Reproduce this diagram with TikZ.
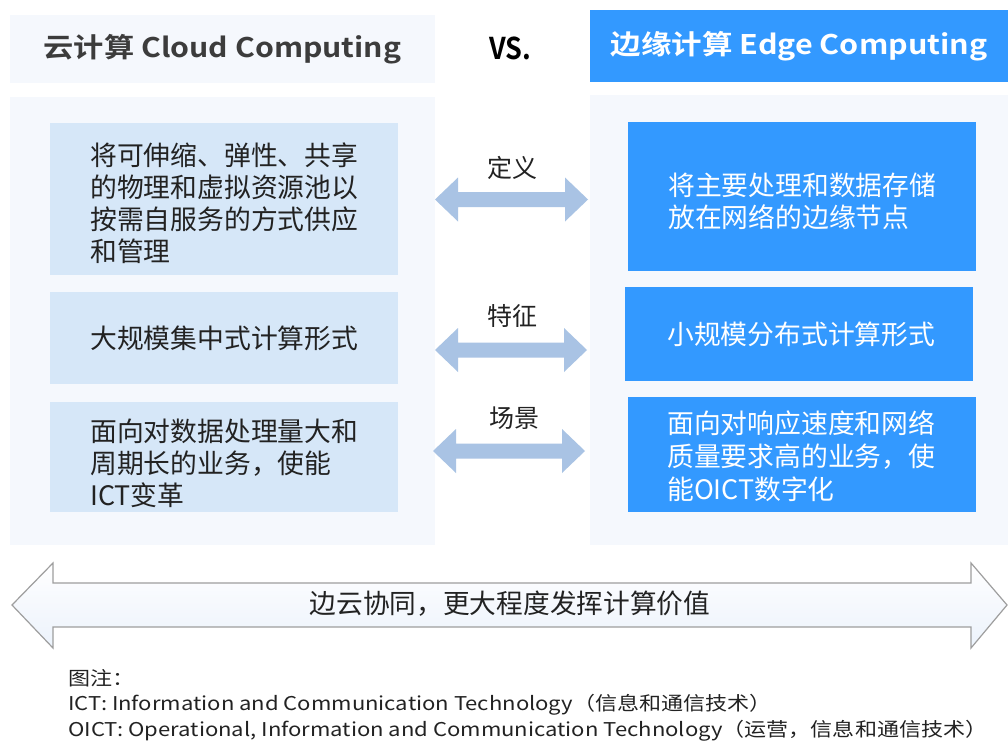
\documentclass[tikz,border=0pt]{standalone}
\usepackage{graphicx}
\usepackage{fontspec}
\setmainfont{Noto Sans CJK SC}[BoldFont={* Bold}]
\definecolor{blueR}{HTML}{3399FF}
\definecolor{lightbox}{HTML}{D6E7F8}
\definecolor{panelbg}{HTML}{F5F8FD}
\definecolor{arrowc}{HTML}{A9C3E4}
\definecolor{txt}{HTML}{222222}
\definecolor{htxt}{HTML}{3C3C3C}
\definecolor{edgegray}{HTML}{9E9E9E}
\newcommand{\sx}[2]{\scalebox{#1}[1]{#2}}
\tikzset{
  panel/.style={fill=panelbg, draw=none},
  hdr/.style={rectangle, inner sep=0pt, font=\fontsize{27}{30}\selectfont\bfseries},
  cbox/.style={rectangle, inner sep=0pt, minimum width=348pt, draw=none},
  lbox/.style={cbox, fill=lightbox},
  rbox/.style={cbox, fill=blueR},
  ctext/.style={anchor=west, inner sep=0pt, align=left, font=\fontsize{26.8}{32}\selectfont},
  ltext/.style={ctext, text=txt},
  rtext/.style={ctext, text=white},
  midlbl/.style={font=\fontsize{25}{28}\selectfont, text=txt, inner sep=0pt},
  fatarrow/.style={fill=arrowc, draw=none},
  note/.style={anchor=west, inner sep=0pt, font=\fontsize{19}{22}\selectfont, text=txt}
}
\begin{document}
\begin{tikzpicture}[x=1pt,y=-1pt]
\useasboundingbox (0,0) rectangle (1008,744);
\fill[white] (0,0) rectangle (1008,744);
% headers
\node[hdr, fill=panelbg, text=htxt, minimum width=425pt, minimum height=68pt] (lh) at (222.5,49) {\sx{1.12}{云计算 Cloud Computing}};
\node[hdr, fill=blueR, text=white, minimum width=418pt, minimum height=72pt] (rh) at (799,46) {\sx{1.13}{边缘计算 Edge Computing}};
\node[hdr, text=black, font=\fontsize{30}{32}\selectfont\bfseries] (vs) at (510,48) {\sx{0.9}{VS.}};
% panels
\fill[panel] (10,97) rectangle (435,545);
\fill[panel] (590,95) rectangle (1008,545);
% left boxes
\node[lbox, minimum height=152pt] (l1) at (223.5,199) {};
\node[lbox, minimum height=92pt] (l2) at (223.5,338) {};
\node[lbox, minimum height=110pt] (l3) at (223.5,457) {};
\node[ltext] (l1t) at (90,203) {将可伸缩、弹性、共享\\的物理和虚拟资源池以\\按需自服务的方式供应\\和管理};
\node[ltext] (l2t) at (90,338) {大规模集中式计算形式};
\node[ltext] (l3t) at (90,463) {面向对数据处理量大和\\周期长的业务，使能\\ICT变革};
% right boxes
\node[rbox, minimum height=149pt] (r1) at (802,196.5) {};
\node[rbox, minimum height=94pt] (r2) at (799,334) {};
\node[rbox, minimum height=115pt] (r3) at (802,454.5) {};
\node[rtext] (r1t) at (668,201) {将主要处理和数据存储\\放在网络的边缘节点};
\node[rtext] (r2t) at (667,334) {小规模分布式计算形式};
\node[rtext, font=\fontsize{26.8}{33}\selectfont] (r3t) at (667,456.5) {面向对响应速度和网络\\质量要求高的业务，使\\能OICT数字化};
% middle labels
\node[midlbl] (m1) at (512,168) {定义};
\node[midlbl] (m2) at (512,316) {特征};
\node[midlbl] (m3) at (514,418) {场景};
% middle fat arrows
\newcommand{\fatarr}[3]{%
  \fill[fatarrow] (#1,#3) -- (#1+23,#3-22) -- (#1+23,#3-7.5) -- (#2-23,#3-7.5) -- (#2-23,#3-22) -- (#2,#3)
    -- (#2-23,#3+22) -- (#2-23,#3+7.5) -- (#1+23,#3+7.5) -- (#1+23,#3+22) -- cycle;}
\fatarr{435}{588}{199.5}
\fatarr{435}{587}{350}
\fatarr{433}{585}{451}
% bottom big arrow
\path[draw=edgegray, line width=1.2pt, top color=white, bottom color=panelbg!70!lightbox, middle color=panelbg]
  (12,605) -- (53,563) -- (53,583) -- (971,583) -- (971,563) -- (1007,605) -- (971,648) -- (971,627)
  -- (53,627) -- (53,648) -- cycle;
\node[font=\fontsize{26.7}{30}\selectfont, text=txt, inner sep=0pt] (bt) at (510,604) {边云协同，更大程度发挥计算价值};
% notes
\node[note] (n0) at (68,678) {\sx{1.16}{图注：}};
\node[note] (n1) at (68,705) {\sx{1.16}{ICT: Information and Communication Technology（信息和通信技术）}};
\node[note] (n2) at (68,731) {\sx{1.16}{OICT: Operational, Information and Communication Technology（运营，信息和通信技术）}};
\end{tikzpicture}
\end{document}
